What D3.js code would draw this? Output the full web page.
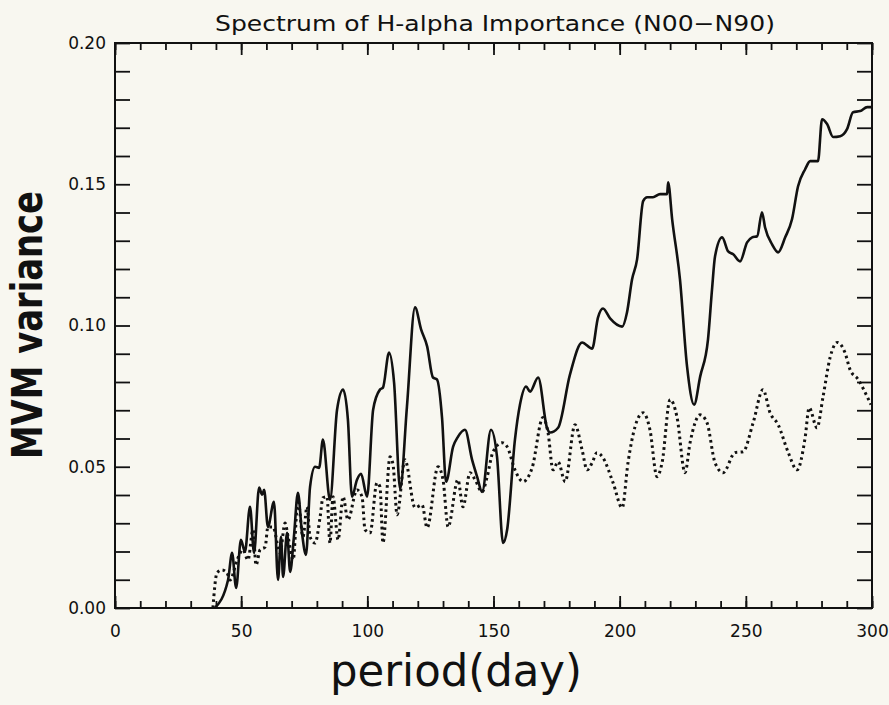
<!DOCTYPE html>
<html>
<head>
<meta charset="utf-8">
<script src="https://cdn.jsdelivr.net/npm/d3@7"></script>
<style>
  html, body { margin: 0; padding: 0; background: #f8f7f0; }
  svg { display: block; }
  text { fill: #111; }
</style>
</head>
<body>
<div id="chart"></div>
<script>
// MVM variance spectrum of H-alpha importance, northern hemisphere (N00-N90)
const solidPeriod = [39.6, 44.8, 46.4, 48.0, 49.9, 51.5, 53.5, 55.1, 57.1, 58.3, 59.1, 60.6, 63.0, 64.6, 65.8, 66.6, 68.2, 69.4, 70.9, 72.5,
  74.1, 75.7, 77.3, 79.3, 80.9, 82.4, 85.2, 88.0, 90.4, 92.3, 93.9, 95.9, 97.5, 99.9, 102.3, 105.0, 106.2, 108.6, 110.6, 113.0,
  115.7, 118.9, 121.3, 123.7, 126.0, 127.6, 129.6, 131.2, 134.0, 135.9, 138.7, 141.5, 143.5, 145.5, 149.0, 151.4, 153.8, 155.4, 158.5, 160.5,
  162.9, 164.5, 167.7, 171.2, 172.4, 175.6, 180.3, 185.1, 189.1, 191.4, 193.4, 196.2, 201.0, 202.9, 204.9, 206.9, 209.3, 210.9, 213.2, 216.0,
  218.8, 219.2, 220.8, 223.9, 226.7, 229.5, 231.9, 235.0, 236.6, 237.8, 240.6, 243.0, 245.0, 247.7, 250.5, 252.5, 254.5, 256.4, 257.6, 260.4,
  262.8, 265.6, 268.3, 270.7, 273.5, 275.5, 278.6, 280.2, 282.2, 284.6, 287.4, 290.1, 292.5, 295.3, 298.1, 300.0];
const solidVariance = [0.000, 0.0099, 0.0195, 0.0071, 0.0241, 0.0199, 0.0358, 0.0195, 0.0426, 0.0401, 0.0418, 0.0287, 0.0376, 0.0099, 0.0252, 0.0110, 0.0266, 0.0128, 0.0252, 0.0408,
  0.0266, 0.0188, 0.0429, 0.0500, 0.0496, 0.0596, 0.0383, 0.0702, 0.0773, 0.0667, 0.0394, 0.0454, 0.0475, 0.0394, 0.0702, 0.0773, 0.0780, 0.0904, 0.0798, 0.0422,
  0.0713, 0.1064, 0.0986, 0.0926, 0.0816, 0.0809, 0.0674, 0.0447, 0.0571, 0.0606, 0.0631, 0.0525, 0.0465, 0.0411, 0.0631, 0.0535, 0.0230, 0.0277, 0.0596, 0.0720,
  0.0784, 0.0766, 0.0816, 0.0638, 0.0621, 0.0638, 0.0826, 0.0940, 0.0918, 0.1028, 0.1060, 0.1025, 0.0996, 0.1046, 0.1163, 0.1234, 0.1440, 0.1454, 0.1454, 0.1465,
  0.1465, 0.1507, 0.1376, 0.1163, 0.0855, 0.0720, 0.0819, 0.0950, 0.1128, 0.1245, 0.1312, 0.1262, 0.1252, 0.1227, 0.1294, 0.1312, 0.1316, 0.1401, 0.1348, 0.1287,
  0.1259, 0.1312, 0.1376, 0.1493, 0.1553, 0.1582, 0.1582, 0.1730, 0.1713, 0.1667, 0.1670, 0.1695, 0.1755, 0.1759, 0.1773, 0.1773];

const dottedPeriod = [38.8, 40.4, 42.4, 44.4, 45.6, 48.4, 50.7, 52.7, 54.7, 55.9, 57.5, 59.5, 60.6, 62.6, 65.4, 67.4, 68.6, 70.6, 72.5, 74.5,
  76.1, 77.3, 79.3, 81.3, 82.4, 84.0, 85.2, 86.4, 88.4, 90.4, 92.3, 95.9, 97.9, 99.1, 101.1, 103.8, 105.0, 106.2, 109.0, 110.2,
  111.8, 114.9, 118.9, 121.7, 123.7, 128.0, 130.0, 132.0, 135.9, 137.9, 140.7, 142.7, 145.5, 147.4, 149.8, 153.4, 155.4, 158.5, 161.7, 165.3,
  169.6, 171.6, 173.6, 175.6, 178.4, 182.3, 185.1, 187.1, 189.1, 191.0, 193.4, 197.4, 201.0, 203.3, 206.1, 209.3, 212.0, 214.8, 216.8, 220.0,
  222.7, 225.9, 227.9, 231.9, 234.6, 237.8, 241.0, 245.7, 248.9, 252.9, 256.8, 259.6, 262.8, 266.7, 270.3, 273.5, 275.1, 278.2, 280.6, 283.4,
  286.2, 289.3, 291.3, 294.5, 298.1, 299.6];
const dottedVariance = [0.000, 0.0124, 0.0135, 0.0124, 0.0099, 0.0170, 0.0206, 0.0170, 0.0277, 0.0152, 0.0206, 0.0216, 0.0287, 0.0287, 0.0195, 0.0301, 0.0252, 0.0170, 0.0383, 0.0252,
  0.0358, 0.0252, 0.0230, 0.0323, 0.0390, 0.0394, 0.0230, 0.0394, 0.0241, 0.0394, 0.0312, 0.0418, 0.0394, 0.0277, 0.0266, 0.0443, 0.0429, 0.0230, 0.0535, 0.0507,
  0.0330, 0.0525, 0.0355, 0.0365, 0.0284, 0.0500, 0.0454, 0.0287, 0.0454, 0.0358, 0.0479, 0.0454, 0.0411, 0.0461, 0.0553, 0.0585, 0.0571, 0.0489, 0.0447, 0.0496,
  0.0674, 0.0621, 0.0489, 0.0518, 0.0447, 0.0649, 0.0560, 0.0489, 0.0514, 0.0550, 0.0532, 0.0443, 0.0355, 0.0514, 0.0642, 0.0691, 0.0631, 0.0465, 0.0514, 0.0738,
  0.0677, 0.0479, 0.0585, 0.0684, 0.0656, 0.0514, 0.0479, 0.0550, 0.0553, 0.0656, 0.0773, 0.0691, 0.0649, 0.0553, 0.0489, 0.0603, 0.0709, 0.0638, 0.0748, 0.0887,
  0.0940, 0.0904, 0.0844, 0.0809, 0.0748, 0.0720];

const xTickLabels = [0, 50, 100, 150, 200, 250, 300];
const yTickLabels = [0.00, 0.05, 0.10, 0.15, 0.20];
const xMinorTicks = d3.range(0, 301, 10);
const yMinorTicks = d3.range(0, 21, 1).map(i => i / 100);

const titleText = "Spectrum of H-alpha Importance (N00\u2212N90)";
const xTitle = "period(day)";
const yTitle = "MVM variance";

const W = 889, H = 705;
const margin = { top: 43, right: 17, bottom: 97, left: 115 };
const innerW = W - margin.left - margin.right;
const innerH = H - margin.top - margin.bottom;

const svg = d3.select("#chart").append("svg")
  .attr("width", W).attr("height", H)
  .style("font-family", "'DejaVu Sans', sans-serif");

svg.append("rect").attr("width", W).attr("height", H).attr("fill", "#f8f7f0");

const g = svg.append("g").attr("transform", `translate(${margin.left},${margin.top})`);

const x = d3.scaleLinear().domain([0, 300]).range([0, innerW]);
const y = d3.scaleLinear().domain([0, 0.2]).range([innerH, 0]);

const ink = "#111";

function styleAxis(sel) {
  sel.select(".domain").remove();
  sel.selectAll(".tick line").attr("stroke", ink).attr("stroke-width", 1.8);
  sel.selectAll(".tick text").attr("fill", ink).style("font-size", "17px")
    .style("font-family", "'DejaVu Sans', sans-serif");
}

// inward ticks on all four sides
g.append("g").attr("transform", `translate(0,${innerH})`)
  .call(d3.axisBottom(x).tickValues(xMinorTicks).tickSize(-7).tickFormat(""))
  .call(styleAxis);
g.append("g").attr("transform", `translate(0,${innerH})`)
  .call(d3.axisBottom(x).tickValues(xTickLabels).tickSize(-12).tickPadding(17).tickFormat(d3.format("d")))
  .call(styleAxis);
g.append("g")
  .call(d3.axisTop(x).tickValues(xMinorTicks).tickSize(-7).tickFormat(""))
  .call(styleAxis);
g.append("g")
  .call(d3.axisTop(x).tickValues(xTickLabels).tickSize(-12).tickFormat(""))
  .call(styleAxis);
g.append("g")
  .call(d3.axisLeft(y).tickValues(yMinorTicks).tickSize(-15).tickFormat(""))
  .call(styleAxis);
g.append("g")
  .call(d3.axisLeft(y).tickValues(yTickLabels).tickSize(0).tickPadding(9).tickFormat(d3.format(".2f")))
  .call(styleAxis);
g.append("g").attr("transform", `translate(${innerW},0)`)
  .call(d3.axisRight(y).tickValues(yMinorTicks).tickSize(-15).tickFormat(""))
  .call(styleAxis);

// plot frame
g.append("rect").attr("width", innerW).attr("height", innerH)
  .attr("fill", "none").attr("stroke", ink).attr("stroke-width", 2);

const line = d3.line()
  .x(d => x(d[0]))
  .y(d => y(d[1]))
  .curve(d3.curveMonotoneX);

const solidData = solidPeriod.map((p, i) => [p, solidVariance[i]]);
const dottedData = dottedPeriod.map((p, i) => [p, dottedVariance[i]]);

g.append("path").datum(dottedData)
  .attr("d", line).attr("fill", "none")
  .attr("stroke", ink).attr("stroke-width", 3)
  .attr("stroke-dasharray", "2.6,3.4");

g.append("path").datum(solidData)
  .attr("d", line).attr("fill", "none")
  .attr("stroke", ink).attr("stroke-width", 2.6)
  .attr("stroke-linejoin", "round");

// titles
svg.append("text")
  .attr("x", 495).attr("y", 31)
  .attr("text-anchor", "middle")
  .attr("textLength", 560).attr("lengthAdjust", "spacingAndGlyphs")
  .style("font-size", "21px")
  .text(titleText);

svg.append("text")
  .attr("x", 456).attr("y", 686)
  .attr("text-anchor", "middle")
  .attr("textLength", 252).attr("lengthAdjust", "spacingAndGlyphs")
  .style("font-size", "44px")
  .text(xTitle);

svg.append("text")
  .attr("transform", "translate(42,325) rotate(-90)")
  .attr("text-anchor", "middle")
  .attr("textLength", 268).attr("lengthAdjust", "spacingAndGlyphs")
  .style("font-size", "42px").style("font-weight", "bold")
  .text(yTitle);
</script>
</body>
</html>
